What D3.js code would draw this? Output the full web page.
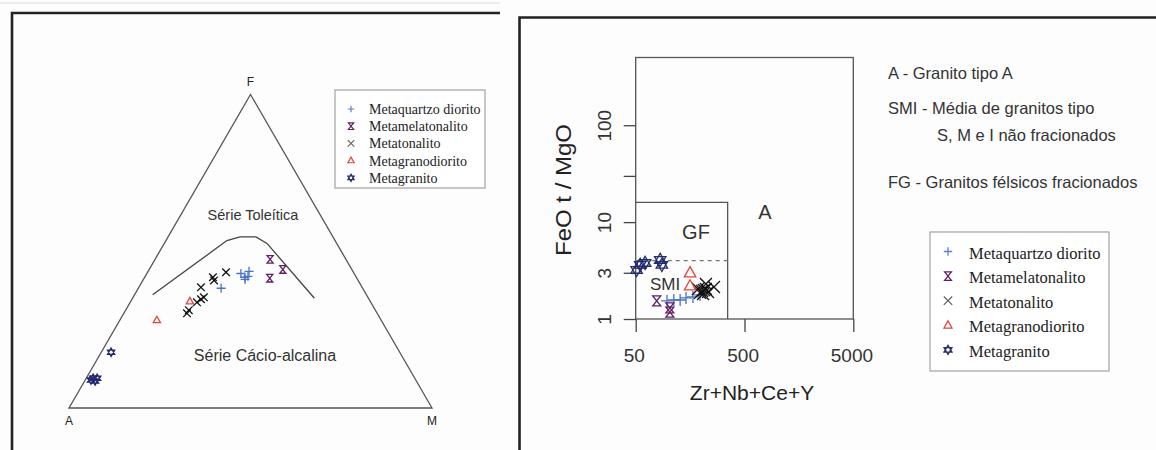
<!DOCTYPE html>
<html><head><meta charset="utf-8">
<script src="https://cdn.jsdelivr.net/npm/d3@7"></script>
<style>html,body{margin:0;padding:0;background:#fdfdfd;} svg{display:block;}</style>
</head><body><svg id="c" width="1156" height="450"></svg>
<script>
// ---------- series definitions ----------
const seriesNames  = ["Metaquartzo diorito","Metamelatonalito","Metatonalito","Metagranodiorito","Metagranito"];
const seriesShapes = ["plus","hourglass","cross","triangle","star"];
const seriesColors = ["#4a72c8","#5e1f63","#111111","#e2453c","#232b6e"];
const legendColors = ["#5d80cc","#5e1f63","#666666","#e2453c","#2a326f"];

// ---------- AFM ternary data (A, F, M in %) ----------
const afmMetaquartzo   = [[39.0,38.2,22.8],[31.2,42.9,25.9],[30.7,41.7,27.6],[28.6,43.6,27.8],[31.0,41.0,28.0],[29.7,42.0,28.3]];
const afmMetamelaton   = [[20.9,47.4,31.7],[19.0,44.2,36.8],[24.0,41.4,34.6]];
const afmMetatonalito  = [[52.4,30.2,17.4],[51.4,31.2,17.4],[47.9,33.7,18.4],[46.3,34.7,19.0],[45.2,35.3,19.5],[44.4,38.5,17.1],[39.5,41.7,18.8],[39.7,40.7,19.6],[35.1,43.3,21.6]];
const afmMetagranodior = [[61.8,28.0,10.2],[49.7,34.0,16.3]];
const afmMetagranito   = [[79.5,17.8,2.7],[88.6,9.5,1.9],[88.5,8.6,2.9],[89.5,8.9,1.6],[87.5,9.5,3.0]];
const afmBoundary      = [[58.9,36.1,5.0],[29.8,53.4,16.8],[25.6,54.6,19.8],[21.2,54.6,24.2],[19.2,52.5,28.3],[14.9,35.0,50.1]];
const afmVertexLabels  = ["A","F","M"];
const afmFieldLabels   = ["Série Toleítica","Série Cácio-alcalina"];

// ---------- Whalen et al. data: Zr+Nb+Ce+Y vs FeOt/MgO ----------
const zrMetaquartzo   = [97,112,128,145,168,195];
const feoMetaquartzo  = [1.54,1.57,1.57,1.65,1.69,1.77];
const zrMetamelaton   = [78,103,103];
const feoMetamelaton  = [1.54,1.30,1.18];
const zrMetatonalito  = [195,204,212,221,208,231,221,262,187];
const feoMetatonalito = [1.86,1.95,1.99,2.04,1.81,1.90,2.30,2.14,2.04];
const zrMetagranodior = [158,158];
const feoMetagranodior= [2.99,2.19];
const zrMetagranito   = [51,55,61,84,87];
const feoMetagranito  = [3.21,3.62,3.79,4.07,3.62];
const xTickValues = [50,500,5000];
const yTickValues = [1,3,10,30,100];
const yTickLabels = ["1","3","10","","100"];
const gfLimitZr = 350, gfLimitFeo = 16, smiLimitFeo = 4;
const fieldNotes = ["A - Granito tipo A","SMI - Média de granitos tipo","S, M e I não fracionados","FG - Granitos félsicos fracionados"];

const afmSeries = [afmMetaquartzo,afmMetamelaton,afmMetatonalito,afmMetagranodior,afmMetagranito];
const whalenSeries = [[zrMetaquartzo,feoMetaquartzo],[zrMetamelaton,feoMetamelaton],[zrMetatonalito,feoMetatonalito],[zrMetagranodior,feoMetagranodior],[zrMetagranito,feoMetagranito]];

// ---------- symbol paths ----------
function sym(shape, s){
  switch(shape){
    case "plus": return `M${-s},0H${s}M0,${-s}V${s}`;
    case "cross": return `M${-s},${-s}L${s},${s}M${-s},${s}L${s},${-s}`;
    case "triangle": return `M0,${-1.05*s}L${0.95*s},${0.65*s}L${-0.95*s},${0.65*s}Z`;
    case "star": {
      const t = `M0,${-1.1*s}L${0.95*s},${0.55*s}L${-0.95*s},${0.55*s}Z`;
      const b = `M0,${1.1*s}L${0.95*s},${-0.55*s}L${-0.95*s},${-0.55*s}Z`;
      return t+b;
    }
    case "hourglass": return `M${-0.8*s},${-s}H${0.8*s}L${-0.8*s},${s}H${0.8*s}Z`;
  }
}

const svg = d3.select("#c");
const SANS = "'Liberation Sans', Arial, sans-serif";
const SERIF = "'Liberation Serif', 'Times New Roman', serif";

// page chrome
svg.append("rect").attr("width",1156).attr("height",450).attr("fill","#fdfdfd");
svg.append("line").attr("x1",0).attr("x2",500).attr("y1",3).attr("y2",3).attr("stroke","#dcdcdc").attr("stroke-width",1);
svg.append("path").attr("d","M12,450V13H500").attr("fill","none").attr("stroke","#222").attr("stroke-width",2.6);
svg.append("path").attr("d","M519.5,450V17.5H1156").attr("fill","none").attr("stroke","#222").attr("stroke-width",2.6);

// ================= LEFT: AFM ternary =================
const tx = d3.scaleLinear().domain([0,100]).range([69,432]);
const ty = d3.scaleLinear().domain([0,100]).range([408,94.5]);
const proj = d => { const s = d[0]+d[1]+d[2]; const f = d[1]*100/s, m = d[2]*100/s; return [tx(m + f/2), ty(f)]; };
const L = svg.append("g");
const verts = [[100,0,0],[0,100,0],[0,0,100]];
L.append("path").attr("d", d3.line()(verts.map(proj)) + "Z").attr("fill","none").attr("stroke","#555").attr("stroke-width",1.3);
L.append("path").attr("d", d3.line()(afmBoundary.map(proj))).attr("fill","none").attr("stroke","#444").attr("stroke-width",1.3);
const vOff = [[0,17],[0,-9],[0,17]];
verts.forEach((v,i)=>{
  const p = proj(v);
  L.append("text").attr("x",p[0]).attr("y",p[1]+vOff[i][1]).attr("text-anchor","middle")
    .attr("font-family",SANS).attr("font-size",12).attr("fill","#222").text(afmVertexLabels[i]);
});
L.append("text").attr("x",253).attr("y",219.5).attr("text-anchor","middle").attr("font-family",SANS)
  .attr("font-size",14.5).attr("fill","#333").text(afmFieldLabels[0]);
L.append("text").attr("x",265).attr("y",360.5).attr("text-anchor","middle").attr("font-family",SANS)
  .attr("font-size",16).attr("fill","#333").text(afmFieldLabels[1]);

afmSeries.forEach((data,i)=>{
  L.append("g").selectAll("path").data(data).join("path")
    .attr("transform", d => { const p = proj(d); return `translate(${p[0]},${p[1]})`; })
    .attr("d", sym(seriesShapes[i], seriesShapes[i]==="plus"?4.5:3.8))
    .attr("fill","none").attr("stroke",seriesColors[i]).attr("stroke-width",1.3);
});

// left legend
const lg = svg.append("g");
lg.append("rect").attr("x",335).attr("y",90).attr("width",150).attr("height",98).attr("fill","#fff").attr("stroke","#aaa").attr("stroke-width",1.3);
seriesNames.forEach((n,i)=>{
  const yb = 114 + i*17.2;
  lg.append("path").attr("transform",`translate(351,${yb-5})`).attr("d",sym(seriesShapes[i],3.3))
    .attr("fill","none").attr("stroke",legendColors[i]).attr("stroke-width",1.2);
  lg.append("text").attr("x",369).attr("y",yb).attr("font-family",SERIF).attr("font-size",14).attr("fill","#222").text(n);
});

// ================= RIGHT: Whalen diagram =================
const x = d3.scaleLog().domain([50,5000]).range([635.7,853.3]);
const y = d3.scaleLog().domain([1,500]).range([319,57.5]);
const R = svg.append("g");
R.append("rect").attr("x",x(50)).attr("y",y(500)).attr("width",x(5000)-x(50)).attr("height",y(1)-y(500))
  .attr("fill","none").attr("stroke","#555").attr("stroke-width",1.3);
R.append("path").attr("d",`M${x(50)},${y(gfLimitFeo)}H${x(gfLimitZr)}V${y(1)}`).attr("fill","none").attr("stroke","#555").attr("stroke-width",1.3);
R.append("line").attr("x1",x(50)).attr("x2",x(gfLimitZr)).attr("y1",y(smiLimitFeo)).attr("y2",y(smiLimitFeo))
  .attr("stroke","#777").attr("stroke-width",1.2).attr("stroke-dasharray","4,4");

const xa = R.append("g").attr("transform",`translate(0,${y(1)})`)
  .call(d3.axisBottom(x).tickValues(xTickValues).tickSize(13).tickPadding(17).tickFormat(d3.format("d")));
const ya = R.append("g").attr("transform",`translate(${x(50)},0)`)
  .call(d3.axisLeft(y).tickValues(yTickValues).tickSize(12).tickFormat((d,i)=>yTickLabels[i]));
[xa,ya].forEach(a=>{
  a.select(".domain").remove();
  a.selectAll("line").attr("stroke","#444").attr("stroke-width",1.3);
  a.selectAll("text").attr("font-family",SANS).attr("font-size",19).attr("fill","#333");
});
xa.selectAll("text").attr("dx","-0.1em");
ya.selectAll("text").attr("x",null).attr("dy",null).attr("text-anchor","middle").attr("transform","translate(-24.5,0) rotate(-90)");

R.append("text").attr("x",752).attr("y",400).attr("text-anchor","middle").attr("font-family",SANS)
  .attr("font-size",21).attr("fill","#222").text("Zr+Nb+Ce+Y");
R.append("text").attr("transform","translate(571,190) rotate(-90)").attr("text-anchor","middle").attr("font-family",SANS)
  .attr("font-size",22).attr("fill","#222").attr("textLength",132).attr("lengthAdjust","spacingAndGlyphs").text("FeO t / MgO");

R.append("text").attr("x",696).attr("y",239).attr("text-anchor","middle").attr("font-family",SANS).attr("font-size",20).attr("fill","#333").text("GF");
R.append("text").attr("x",765).attr("y",219).attr("text-anchor","middle").attr("font-family",SANS).attr("font-size",20).attr("fill","#333").text("A");
R.append("text").attr("x",665).attr("y",290).attr("text-anchor","middle").attr("font-family",SANS).attr("font-size",17).attr("fill","#333").text("SMI");

whalenSeries.forEach((s,i)=>{
  const pts = s[0].map((v,j)=>[v,s[1][j]]);
  R.append("g").selectAll("path").data(pts).join("path")
    .attr("transform", d => `translate(${x(d[0])},${y(d[1])})`)
    .attr("d", sym(seriesShapes[i], seriesShapes[i]==="hourglass"?5:6))
    .attr("fill","none").attr("stroke",seriesColors[i]).attr("stroke-width",1.3);
});

// notes
const nx = [888,888,937,888], nyb = [78.5,113.5,141,188];
fieldNotes.forEach((t,i)=>{
  R.append("text").attr("x",nx[i]).attr("y",nyb[i]).attr("font-family",SANS).attr("font-size",16.5).attr("fill","#333").text(t);
});

// right legend
const rg = svg.append("g");
rg.append("rect").attr("x",930).attr("y",232).attr("width",179).attr("height",139).attr("fill","#fff").attr("stroke","#aaa").attr("stroke-width",1.3);
seriesNames.forEach((n,i)=>{
  const yb = 258.5 + i*24.6;
  rg.append("path").attr("transform",`translate(948,${yb-7})`).attr("d",sym(seriesShapes[i],4.2))
    .attr("fill","none").attr("stroke",legendColors[i]).attr("stroke-width",1.3);
  rg.append("text").attr("x",969).attr("y",yb).attr("font-family",SERIF).attr("font-size",16.5).attr("fill","#222").text(n);
});
</script></body></html>
